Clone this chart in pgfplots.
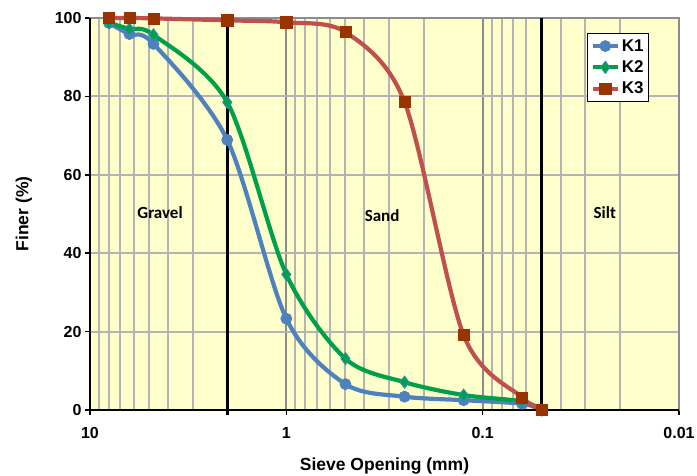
\documentclass[border=0pt]{standalone}
\usepackage{fontspec}
\setmainfont{Liberation Sans}
\newfontfamily\carlito{Carlito}
\usepackage{pgfplots}
\pgfplotsset{compat=1.18}
\definecolor{bgY}{HTML}{FFFFCC}
\definecolor{gridG}{HTML}{B4B4B4}
\definecolor{majG}{HTML}{8C8C8C}
\definecolor{cB}{HTML}{4F81BD}
\definecolor{cG}{HTML}{00A04A}
\definecolor{cGd}{HTML}{2E8FA0}
\definecolor{cR}{HTML}{C0504D}
\definecolor{cRm}{HTML}{993300}
\begin{document}
\begin{tikzpicture}
\useasboundingbox (-90pt,-66pt) rectangle (607pt,410pt);
\begin{axis}[
  at={(0,0)}, anchor=south west,
  scale only axis, width=589pt, height=392pt,
  xmode=log, x dir=reverse,
  xmin=0.01, xmax=10, ymin=0, ymax=100,
  xtick={10,1,0.1,0.01}, xticklabels={10,1,0.1,0.01},
  minor xtick={0.02,0.03,0.04,0.05,0.06,0.07,0.08,0.09,0.2,0.3,0.4,0.5,0.6,0.7,0.8,0.9,2,3,4,5,6,7,8,9},
  ytick={0,20,40,60,80,100},
  /pgf/number format/assume math mode=true,
  ticklabel style={font=\fontsize{16}{18}\selectfont\bfseries},
  xticklabel style={yshift=-9pt},
  tick align=outside, xtick pos=bottom, ytick pos=left,
  major tick length=5pt, minor tick length=0pt,
  tick style={black, line width=1.5pt},
  axis background/.style={fill=bgY},
  axis line style={draw=majG, line width=1.2pt},
  xmajorgrids, xminorgrids, ymajorgrids,
  every minor grid/.style={draw=gridG, line width=2pt},
  every major grid/.style={draw=gridG, line width=2pt},
  major x grid style={draw=majG, line width=1.8pt},
  xlabel={Sieve Opening (mm)}, ylabel={Finer (\%)},
  label style={font=\fontsize{17.5}{20}\selectfont\bfseries},
  xlabel style={yshift=-12pt},
  ylabel style={yshift=16pt},
  clip=false,
  legend style={at={(rel axis cs:0.844,0.962)}, anchor=north west,
    draw=black, line width=1.2pt, fill=white,
    font=\fontsize{17}{19}\selectfont\bfseries,
    row sep=4pt, inner xsep=3pt, inner ysep=4pt},
  legend image code/.code={\draw[mark repeat=2,mark phase=2] plot coordinates {(0pt,0pt) (12.5pt,0pt) (25pt,0pt)};},
  legend cell align=left,
]
\addplot[black, line width=3pt, forget plot, sharp plot, no marks] coordinates {(2,-1.2) (2,100)};
\addplot[black, line width=3pt, forget plot, sharp plot, no marks] coordinates {(0.05,-1.2) (0.05,100)};
\addplot[cB, smooth, tension=0.5, line width=4.2pt, mark=*, mark size=5.5pt, mark options={fill=cB, draw=cB, line width=0.8pt}]
 coordinates {(8,98.7) (6.3,95.9) (4.75,93.4) (2,68.9) (1,23.3) (0.5,6.6) (0.25,3.4) (0.125,2.5) (0.063,1.6) (0.05,0)};
\addlegendentry{K1}
\addplot[cG, smooth, tension=0.5, line width=4.2pt, mark=diamond*, mark size=6pt, mark options={fill=cG, draw=cGd, line width=1pt}]
 coordinates {(8,98.8) (6.3,97.2) (4.75,95.7) (2,78.5) (1,34.6) (0.5,13.1) (0.25,7.1) (0.125,3.8) (0.063,2.2) (0.05,0)};
\addlegendentry{K2}
\addplot[cR, smooth, tension=0.5, line width=4.2pt, mark=square*, mark size=5.6pt, mark options={fill=cRm, draw=cRm, line width=0.5pt}]
 coordinates {(8,100) (6.3,100) (4.75,99.9) (2,99.4) (1,98.9) (0.5,96.4) (0.25,78.6) (0.125,19.1) (0.063,3.2) (0.05,0)};
\addlegendentry{K3}
\draw[black, line width=2.4pt] (rel axis cs:0,1) -- (rel axis cs:0,0) -- (rel axis cs:1,0);
\node[font=\carlito\fontsize{17}{19}\selectfont\bfseries] at (rel axis cs:0.119,0.503) {Gravel};
\node[font=\carlito\fontsize{17}{19}\selectfont\bfseries] at (rel axis cs:0.496,0.497) {Sand};
\node[font=\carlito\fontsize{17}{19}\selectfont\bfseries] at (rel axis cs:0.874,0.503) {Silt};
\end{axis}
\end{tikzpicture}
\end{document}
